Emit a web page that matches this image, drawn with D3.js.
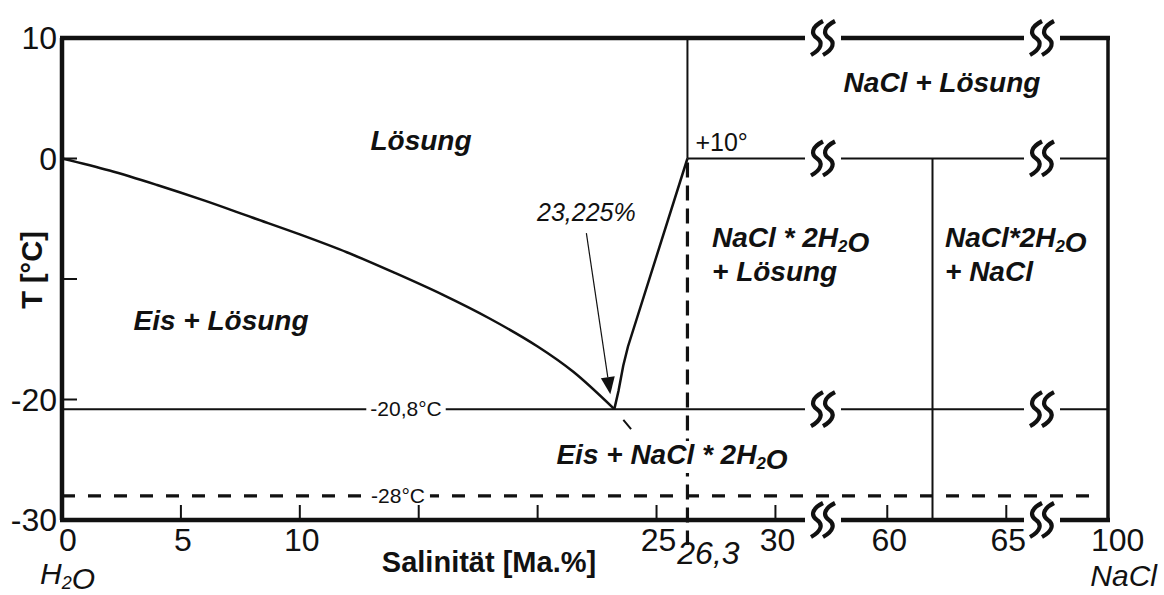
<!DOCTYPE html>
<html>
<head>
<meta charset="utf-8">
<script src="https://cdn.jsdelivr.net/npm/d3@7/dist/d3.min.js"></script>
<style>
body { margin: 0; background: #fff; }
text { font-family: "Liberation Sans", Arial, sans-serif; fill: #111; }
</style>
</head>
<body>
<div class="item"></div>
<script>
// --- Daten ---
// Gefrierkurve Eis/Lösung: Salinität [Ma.%] und T [°C]
var liquidusX = [0, 2, 4, 6, 8, 10, 12, 14, 16, 18, 20, 21.5, 23.225];
var liquidusT = [0, -1.0, -2.2, -3.5, -4.9, -6.3, -7.8, -9.5, -11.3, -13.3, -15.6, -17.7, -20.8];
// Löslichkeitskurve NaCl*2H2O
var hydroX = [23.225, 23.4, 23.6, 23.8, 26.3];
var hydroT = [-20.8, -19.3, -17.2, -15.6, 0];

var eutecticX = 23.225, eutecticT = -20.8;
var peritecticX = 26.3, peritecticT = 0;
var hydrohaliteX = 61.9;       // NaCl*2H2O
var metastableT = -28;
var tMax = 10, tMin = -30, xMax = 100;

var xTicks = [5, 10, 15, 20, 25, 30, 60, 65];
var xTickLabels = [0, 5, 10, 25, 30, 60, 65, 100];
var yTicks = [0, -10, -20];
var yTickLabels = [10, 0, -20, -30];
var xBreaks = [32, 66.5];      // Achsenunterbrechungen
var xDomain = [0, 32, 57.3, 66.5, 100];

var width = 1164, height = 595;

var svg = d3.select(".item")
    .append("svg")
    .attr("width", width)
    .attr("height", height);

// gebrochene x-Achse: polylineare Skala
var x = d3.scaleLinear().domain(xDomain).range([62, 823, 823, 1042, 1108]);
var y = d3.scaleLinear().domain([tMin, tMax]).range([520, 38]);

function hline(t, x0, x1, w, dash) {
    return svg.append("line")
        .attr("x1", x(x0)).attr("x2", x(x1))
        .attr("y1", y(t)).attr("y2", y(t))
        .attr("stroke", "#111").attr("stroke-width", w)
        .attr("stroke-dasharray", dash || null);
}
function vline(v, t0, t1, w, dash) {
    return svg.append("line")
        .attr("x1", x(v)).attr("x2", x(v))
        .attr("y1", y(t0)).attr("y2", y(t1))
        .attr("stroke", "#111").attr("stroke-width", w)
        .attr("stroke-dasharray", dash || null);
}

// innere Linien
hline(eutecticT, 0, xMax, 2);
hline(peritecticT, peritecticX, xMax, 2);
vline(peritecticX, tMax, peritecticT, 2);
vline(hydrohaliteX, peritecticT, tMin, 2);
svg.append("line")
    .attr("x1", x(0)).attr("x2", x(xMax) - 10)
    .attr("y1", y(metastableT)).attr("y2", y(metastableT))
    .attr("stroke", "#111").attr("stroke-width", 3.2)
    .attr("stroke-dasharray", "13,13");
svg.append("line")
    .attr("x1", x(peritecticX)).attr("x2", x(peritecticX))
    .attr("y1", y(peritecticT) + 4).attr("y2", y(tMin) + 25)
    .attr("stroke", "#111").attr("stroke-width", 3.2)
    .attr("stroke-dasharray", "15,8");
// metastabile Fortsetzung unter dem Eutektikum
svg.append("line")
    .attr("x1", x(eutecticX)).attr("y1", y(eutecticT))
    .attr("x2", x(peritecticX)).attr("y2", y(metastableT))
    .attr("stroke", "#111").attr("stroke-width", 2)
    .attr("stroke-dasharray", "0,14,12,200");

// Kurven
var line = d3.line()
    .x(function(d){ return x(d[0]); })
    .y(function(d){ return y(d[1]); });

svg.append("path")
    .datum(liquidusX.map(function(v, i){ return [v, liquidusT[i]]; }))
    .attr("d", line.curve(d3.curveCatmullRom))
    .attr("fill", "none").attr("stroke", "#111").attr("stroke-width", 2.5);

svg.append("path")
    .datum(hydroX.map(function(v, i){ return [v, hydroT[i]]; }))
    .attr("d", line.curve(d3.curveLinear))
    .attr("fill", "none").attr("stroke", "#111").attr("stroke-width", 2.5);

// Rahmen
hline(tMax, 0, xMax, 4.5).attr("x1", x(0) - 2).attr("x2", x(xMax) + 2);
hline(tMin, 0, xMax, 4.5).attr("x1", x(0) - 2).attr("x2", x(xMax) + 2);
vline(0, tMax, tMin, 4.5);
vline(xMax, tMax, tMin, 3.5);

// Ticks (nach innen)
svg.selectAll(".xtick").data(xTicks).enter().append("line")
    .attr("x1", function(d){ return x(d); }).attr("x2", function(d){ return x(d); })
    .attr("y1", y(tMin)).attr("y2", y(tMin) - 15)
    .attr("stroke", "#111").attr("stroke-width", 2);
svg.selectAll(".ytick").data(yTicks).enter().append("line")
    .attr("x1", x(0)).attr("x2", x(0) + 15)
    .attr("y1", function(d){ return y(d); }).attr("y2", function(d){ return y(d); })
    .attr("stroke", "#111").attr("stroke-width", 2);

// Unterbrechungszeichen
function brk(cx, cy) {
    svg.append("rect")
        .attr("x", cx - 18).attr("y", cy - 4)
        .attr("width", 36).attr("height", 8)
        .attr("fill", "#fff");
    [-6, 6].forEach(function(o){
        var sx = cx + o;
        svg.append("path")
            .attr("d", "M" + (sx + 6) + "," + (cy - 17) +
                " C" + (sx - 6) + "," + (cy - 11) + " " + (sx - 6) + "," + (cy - 4) + " " + sx + "," + cy +
                " C" + (sx + 6) + "," + (cy + 4) + " " + (sx + 5) + "," + (cy + 11) + " " + (sx - 6) + "," + (cy + 17))
            .attr("fill", "none").attr("stroke", "#111").attr("stroke-width", 4.2);
    });
}
[tMax, peritecticT, eutecticT, tMin].forEach(function(t){
    xBreaks.forEach(function(b){ brk(x(b), y(t)); });
});

// Achsenbeschriftung
svg.selectAll(".xlab").data(xTickLabels).enter().append("text")
    .attr("x", function(d){ return d === 0 ? x(d) - 3 : d === xMax ? x(d) - 17 : x(d) + 2; })
    .attr("y", 551)
    .attr("text-anchor", function(d){ return (d === 0 || d === xMax) ? "start" : "middle"; })
    .style("font-size", "32px")
    .text(function(d){ return d; });
svg.selectAll(".ylab").data(yTickLabels).enter().append("text")
    .attr("x", 57)
    .attr("y", function(d){ return y(d) + 11; })
    .attr("text-anchor", "end")
    .style("font-size", "32px")
    .text(function(d){ return d; });

svg.append("text")
    .attr("x", x(peritecticX) + 21).attr("y", 564)
    .attr("text-anchor", "middle")
    .style("font-size", "32px").style("font-style", "italic")
    .text("26,3");

svg.append("text")
    .attr("x", 489).attr("y", 572)
    .attr("text-anchor", "middle")
    .style("font-size", "29px").style("font-weight", "bold")
    .text("Salinität [Ma.%]");

svg.append("text")
    .attr("transform", "translate(42,270) rotate(-90)")
    .attr("text-anchor", "middle")
    .style("font-size", "29px").style("font-weight", "bold")
    .text("T [°C]");

// chemische Formel mit Index
function formula(sel, parts) {
    parts.forEach(function(p){
        if (p.sub) {
            sel.append("tspan").attr("dy", 5).style("font-size", "60%").text(p.sub);
            sel.append("tspan").attr("dy", -5).text("");
        } else {
            sel.append("tspan").text(p.t);
        }
    });
    return sel;
}

formula(svg.append("text")
    .attr("x", 40).attr("y", 584)
    .style("font-size", "30px").style("font-style", "italic"),
    [{t: "H"}, {sub: "2"}, {t: "O"}]);

svg.append("text")
    .attr("x", 1157).attr("y", 586)
    .attr("text-anchor", "end")
    .style("font-size", "30px").style("font-style", "italic")
    .text("NaCl");

// Feldbeschriftungen
function region(px, py, anchor, parts) {
    var t = svg.append("text")
        .attr("x", px).attr("y", py)
        .attr("text-anchor", anchor)
        .style("font-size", "28px").style("font-weight", "bold").style("font-style", "italic");
    return formula(t, parts);
}
region(421, 150, "middle", [{t: "Lösung"}]);
region(221, 330, "middle", [{t: "Eis + Lösung"}]);
region(942, 92, "middle", [{t: "NaCl + Lösung"}]);
region(712, 247, "start", [{t: "NaCl * 2H"}, {sub: "2"}, {t: "O"}]);
region(712, 281, "start", [{t: "+ Lösung"}]);
region(945, 247, "start", [{t: "NaCl*2H"}, {sub: "2"}, {t: "O"}]);
region(945, 281, "start", [{t: "+ NaCl"}]);

// Beschriftung mit weißem Hintergrund
function boxed(t, pad) {
    var b = t.node().getBBox();
    svg.insert("rect", function(){ return t.node(); })
        .attr("x", b.x - pad).attr("y", b.y + 2)
        .attr("width", b.width + 2 * pad).attr("height", b.height - 4)
        .attr("fill", "#fff");
}
boxed(region(672, 464, "middle", [{t: "Eis + NaCl * 2H"}, {sub: "2"}, {t: "O"}]), 2);

var l1 = svg.append("text")
    .attr("x", 406).attr("y", y(eutecticT) + 7)
    .attr("text-anchor", "middle")
    .style("font-size", "21px")
    .text("-20,8°C");
boxed(l1, 4);
var l2 = svg.append("text")
    .attr("x", 398).attr("y", y(metastableT) + 7)
    .attr("text-anchor", "middle")
    .style("font-size", "21px")
    .text("-28°C");
boxed(l2, 5);

svg.append("text")
    .attr("x", x(peritecticX) + 8).attr("y", y(peritecticT) - 8)
    .style("font-size", "25px")
    .text("+10°");

// Pfeil zum Eutektikum
var a0 = [x(22.05), y(-6.2)], a1 = [x(eutecticX) - 4, y(eutecticT) - 15];
svg.append("text")
    .attr("x", a0[0]).attr("y", a0[1] - 12)
    .attr("text-anchor", "middle")
    .style("font-size", "25px").style("font-style", "italic")
    .text("23,225%");
var ang = Math.atan2(a1[1] - a0[1], a1[0] - a0[0]);
var hl = 17, hw = 7;
var bx = a1[0] - hl * Math.cos(ang), by = a1[1] - hl * Math.sin(ang);
svg.append("line")
    .attr("x1", a0[0]).attr("y1", a0[1])
    .attr("x2", bx).attr("y2", by)
    .attr("stroke", "#111").attr("stroke-width", 1.2);
svg.append("polygon")
    .attr("points", [
        [a1[0], a1[1]],
        [bx - hw * Math.sin(ang), by + hw * Math.cos(ang)],
        [bx + hw * Math.sin(ang), by - hw * Math.cos(ang)]
    ].map(function(p){ return p.join(","); }).join(" "))
    .attr("fill", "#111");
</script>
</body>
</html>
